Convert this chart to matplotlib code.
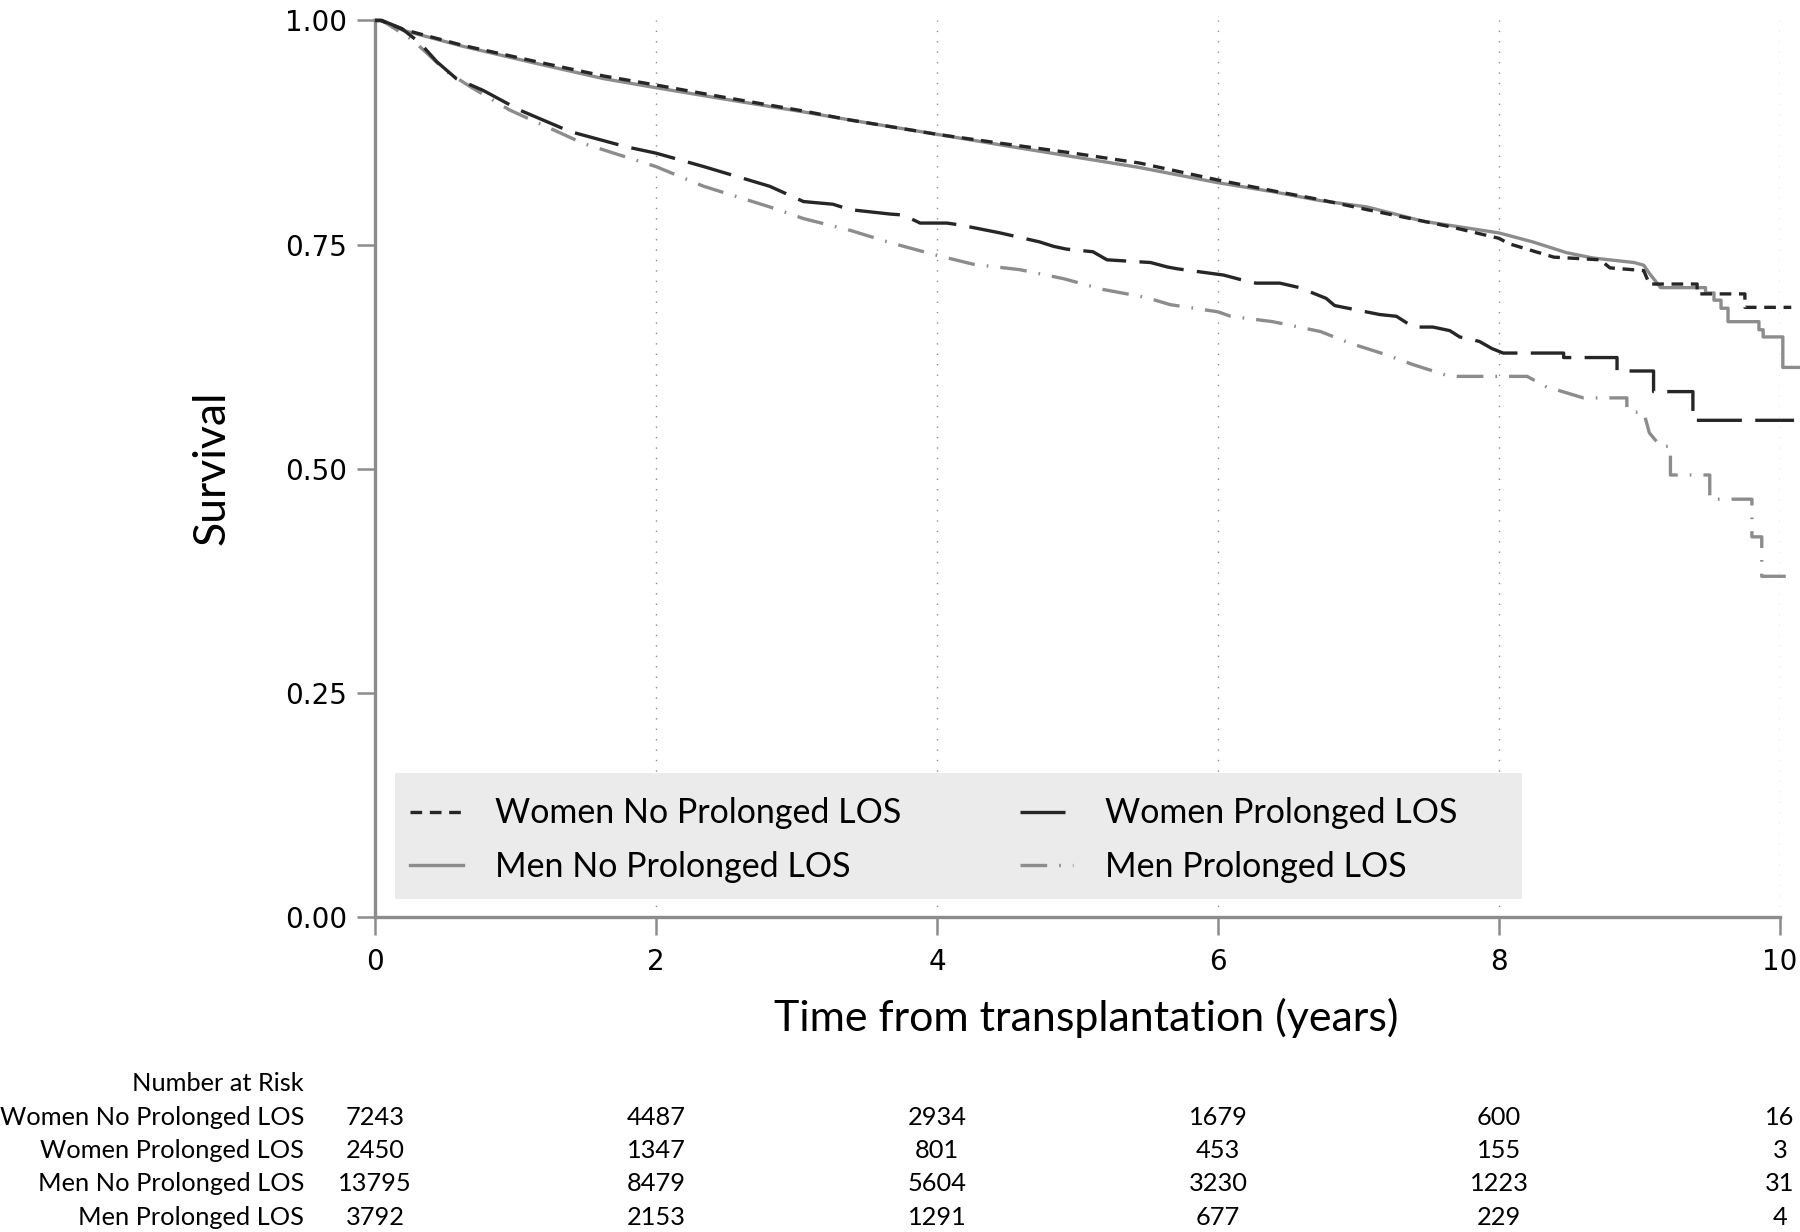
import numpy as np
import matplotlib.pyplot as plt
from matplotlib.patches import Rectangle
import matplotlib.transforms as mtransforms

plt.rcParams['font.family'] = ['Lato', 'DejaVu Sans']

# Kaplan-Meier curves (time, survival)
women_no_t = [0, 0.04, 0.20, 0.63, 1.15, 1.63, 2.0, 2.46, 3.05, 3.38, 4.0, 4.5, 4.97, 5.44, 6.0,
              6.39, 6.73, 7.06, 7.65, 8.0, 8.07, 8.24, 8.39, 8.72, 8.79, 9.03, 9.07, 9.41, 9.41,
              9.75, 9.75, 10.08]
women_no_s = [1.0, 1.0, 0.990, 0.972, 0.954, 0.938, 0.928, 0.915, 0.899, 0.889, 0.873, 0.862, 0.852,
              0.841, 0.822, 0.810, 0.800, 0.789, 0.770, 0.757, 0.751, 0.743, 0.736, 0.733, 0.724,
              0.721, 0.706, 0.706, 0.695, 0.695, 0.680, 0.680]

men_no_t = [0, 0.04, 0.20, 0.63, 1.15, 1.63, 2.0, 2.46, 3.05, 3.38, 4.0, 4.5, 4.97, 5.44, 6.0,
            6.39, 6.73, 7.06, 7.46, 8.0, 8.24, 8.48, 8.67, 8.96, 9.03, 9.07, 9.15, 9.47, 9.47,
            9.53, 9.53, 9.58, 9.58, 9.63, 9.63, 9.85, 9.85, 9.88, 9.88, 10.02, 10.02, 10.13]
men_no_s = [1.0, 1.0, 0.989, 0.971, 0.952, 0.935, 0.925, 0.913, 0.898, 0.889, 0.873, 0.860, 0.848,
            0.836, 0.819, 0.809, 0.799, 0.792, 0.776, 0.763, 0.753, 0.741, 0.735, 0.730, 0.727,
            0.718, 0.702, 0.702, 0.696, 0.696, 0.688, 0.688, 0.679, 0.679, 0.664, 0.664, 0.655,
            0.655, 0.647, 0.647, 0.613, 0.613]

women_pro_t = [0, 0.05, 0.19, 0.32, 0.44, 0.58, 0.77, 1.03, 1.39, 1.79, 2.0, 2.34, 2.81, 3.05,
               3.26, 3.38, 3.67, 3.76, 3.88, 4.07, 4.16, 4.45, 4.73, 4.83, 4.92, 5.11, 5.21, 5.52,
               5.64, 5.71, 6.04, 6.16, 6.27, 6.44, 6.58, 6.77, 6.83, 7.15, 7.27, 7.39, 7.53, 7.65,
               7.72, 7.86, 7.95, 8.03, 8.46, 8.46, 8.84, 8.84, 9.10, 9.10, 9.38, 9.38, 10.1]
women_pro_s = [1.0, 1.0, 0.991, 0.975, 0.954, 0.935, 0.922, 0.900, 0.876, 0.859, 0.852, 0.837,
               0.815, 0.798, 0.795, 0.789, 0.784, 0.783, 0.774, 0.774, 0.772, 0.763, 0.753, 0.748,
               0.745, 0.742, 0.733, 0.730, 0.725, 0.723, 0.716, 0.711, 0.707, 0.707, 0.702, 0.690,
               0.682, 0.672, 0.670, 0.658, 0.658, 0.654, 0.647, 0.642, 0.634, 0.629, 0.629, 0.624,
               0.624, 0.609, 0.609, 0.586, 0.586, 0.554, 0.554]

men_pro_t = [0, 0.05, 0.27, 0.51, 0.68, 0.96, 1.27, 1.48, 2.0, 2.34, 2.81, 3.05, 3.38, 3.67, 4.0,
             4.26, 4.59, 4.90, 5.18, 5.49, 5.66, 6.0, 6.09, 6.39, 6.73, 6.94, 7.20, 7.39, 7.53,
             7.65, 8.20, 8.34, 8.41, 8.60, 8.91, 8.91, 8.95, 9.03, 9.07, 9.15, 9.22, 9.22, 9.50,
             9.50, 9.80, 9.80, 9.87, 9.87, 10.05]
men_pro_s = [1.0, 1.0, 0.978, 0.943, 0.926, 0.900, 0.878, 0.863, 0.837, 0.815, 0.792, 0.779, 0.766,
             0.752, 0.738, 0.728, 0.722, 0.712, 0.700, 0.691, 0.683, 0.675, 0.670, 0.664, 0.653,
             0.640, 0.627, 0.616, 0.609, 0.603, 0.603, 0.591, 0.588, 0.579, 0.579, 0.566, 0.563,
             0.563, 0.540, 0.525, 0.525, 0.493, 0.493, 0.466, 0.466, 0.424, 0.424, 0.380, 0.380]

# number at risk table
risk_times = [0, 2, 4, 6, 8, 10]
risk_labels = ['Women No Prolonged LOS', 'Women Prolonged LOS', 'Men No Prolonged LOS', 'Men Prolonged LOS']
risk_women_no = [7243, 4487, 2934, 1679, 600, 16]
risk_women_pro = [2450, 1347, 801, 453, 155, 3]
risk_men_no = [13795, 8479, 5604, 3230, 1223, 31]
risk_men_pro = [3792, 2153, 1291, 677, 229, 4]

dark = '#262626'
grey = '#8c8c8c'

fig = plt.figure(figsize=(18, 12.32), dpi=100)
ax = fig.add_axes([0.2083, 0.2557, 0.7806, 0.7277])

lw = 2.4
l1, = ax.plot(women_no_t, women_no_s, color=dark, lw=lw, dashes=(3.5, 2.3), clip_on=False, zorder=4)
l2, = ax.plot(men_no_t, men_no_s, color=grey, lw=lw, clip_on=False, zorder=3)
l3, = ax.plot(women_pro_t, women_pro_s, color=dark, lw=lw, dashes=(13.5, 4), clip_on=False, zorder=4)
l4, = ax.plot(men_pro_t, men_pro_s, color=grey, lw=lw, dashes=(8, 3.6, 0.5, 3.6), clip_on=False, zorder=3)

ax.set_xlim(0, 10)
ax.set_ylim(0, 1)
ax.set_xticks(risk_times)
ax.set_yticks([0, 0.25, 0.5, 0.75, 1.0])
ax.set_yticklabels(['0.00', '0.25', '0.50', '0.75', '1.00'])
ax.xaxis.grid(True, color=grey, lw=1.0, dashes=(1, 6.5), zorder=0)
ax.set_axisbelow(True)

for s in ['top', 'right']:
    ax.spines[s].set_visible(False)
for s in ['left', 'bottom']:
    ax.spines[s].set_color(grey)
    ax.spines[s].set_linewidth(2.4)
ax.tick_params(axis='both', length=13, width=1.8, color=grey, labelsize=20)
ax.tick_params(axis='y', pad=7)
ax.tick_params(axis='x', pad=9)
for lab in ax.get_xticklabels() + ax.get_yticklabels():
    lab.set_family('DejaVu Sans')

fig.text(212 / 1800, 1 - 468 / 1232, 'Survival', rotation=90, ha='center', va='center', fontsize=32)
fig.text(1086 / 1800, 1 - 1018 / 1232, 'Time from transplantation (years)', ha='center', va='center',
         fontsize=31)

# legend with grey background box
ax.add_patch(Rectangle((0.0142, 0.0201), 0.8022, 0.1405, transform=ax.transAxes,
                       facecolor='#ebebeb', edgecolor='none', zorder=2))
leg = ax.legend([l1, l2, l3, l4],
                ['Women No Prolonged LOS', 'Men No Prolonged LOS', 'Women Prolonged LOS', 'Men Prolonged LOS'],
                ncol=2, loc='center left', bbox_to_anchor=(0.0249, 0.0859), frameon=False,
                fontsize=24.5, handlelength=1.55, handletextpad=0.95, columnspacing=3.5,
                labelspacing=0.62, borderpad=0, borderaxespad=0)
leg.set_zorder(5)

# number at risk
trans = mtransforms.blended_transform_factory(ax.transData, fig.transFigure)
fs = 18.3
fig.text(304 / 1800, 1 - 1083.5 / 1232, 'Number at Risk', ha='right', va='center', fontsize=fs)
rows = [risk_women_no, risk_women_pro, risk_men_no, risk_men_pro]
row_y = [1117.5, 1150.5, 1183.5, 1217.5]
for lab, vals, y in zip(risk_labels, rows, row_y):
    fig.text(304 / 1800, 1 - y / 1232, lab, ha='right', va='center', fontsize=fs)
    for t, v in zip(risk_times, vals):
        ax.text(t, 1 - y / 1232, str(v), transform=trans, ha='center', va='center',
                fontsize=fs, clip_on=False)

fig.savefig('out.png', dpi=100)
